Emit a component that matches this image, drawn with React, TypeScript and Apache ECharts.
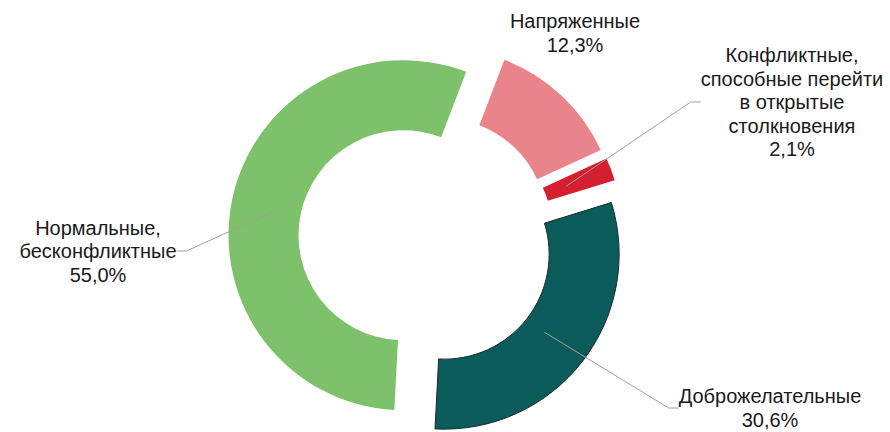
import React, { useEffect, useRef } from "react";
import * as echarts from "echarts";

const categories = [
  "Напряженные",
  "Конфликтные,\nспособные перейти\nв открытые\nстолкновения",
  "Доброжелательные",
  "Нормальные,\nбесконфликтные",
];
const values = [12.3, 2.1, 30.6, 55.0];
const colors = ["#e8848a", "#d31f2f", "#0b5b5b", "#7dc26a"];
const labelPositions = [
  { x: 575, y: 33 },
  { x: 792, y: 102 },
  { x: 770, y: 408 },
  { x: 98, y: 251 },
];

export default function App() {
  const ref = useRef<HTMLDivElement>(null);
  useEffect(() => {
    if (!ref.current) return;
    const chart = echarts.init(ref.current, undefined, { renderer: "svg" });
    const sliceData = categories.map((name, i) => {
      const style: any = {
        color: colors[i],
        borderWidth: i === 2 ? 1 : 0,
        borderColor: i === 2 ? "#1c2b2b" : "transparent",
      };
      return {
        name,
        value: values[i],
        selected: true,
        itemStyle: style,
        select: { itemStyle: style },
      };
    });
    const labelData = categories.map((name, i) => ({
      name,
      value: values[i],
      labelLine: { show: i !== 0 },
    }));
    const common = {
      type: "pie",
      center: [426, 240],
      radius: [105, 175],
      startAngle: 69,
      clockwise: true,
      emphasis: { disabled: true },
    };
    chart.setOption({
      animation: false,
      backgroundColor: "#ffffff",
      series: [
        {
          ...common,
          z: 2,
          selectedMode: "multiple",
          selectedOffset: 23,
          label: { show: false },
          labelLine: { show: false },
          silent: true,
          data: sliceData,
        },
        {
          ...common,
          z: 5,
          radius: [130, 150],
          silent: true,
          avoidLabelOverlap: false,
          itemStyle: { color: "rgba(0,0,0,0)" },
          label: {
            show: true,
            position: "outside",
            color: "#1a1a1a",
            fontFamily: "'Liberation Sans', Arial, sans-serif",
            fontSize: 20,
            lineHeight: 23.5,
            formatter: (p: any) =>
              `${p.name}\n${Number(p.value).toFixed(1).replace(".", ",")}%`,
          },
          labelLine: {
            show: true,
            length: 20,
            length2: 10,
            lineStyle: { color: "#a0a0a0", width: 1 },
          },
          labelLayout: (params: any) => {
            const p = labelPositions[params.dataIndex];
            return {
              x: p.x,
              y: p.y,
              align: "center",
              verticalAlign: "middle",
            };
          },
          data: labelData,
        },
      ],
    });
    return () => chart.dispose();
  }, []);
  return (
    <div
      ref={ref}
      style={{ position: "fixed", left: 0, top: 0, width: 890, height: 432 }}
    />
  );
}
